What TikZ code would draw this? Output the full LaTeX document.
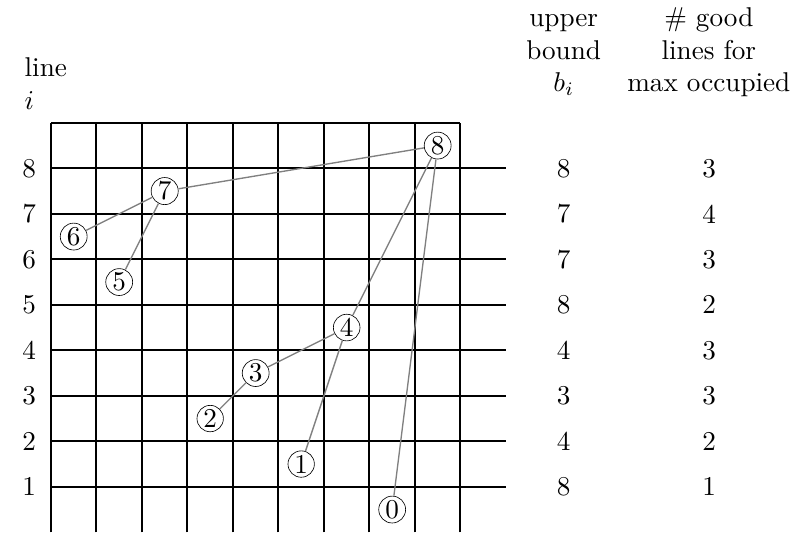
\documentclass[tikz,border=0pt]{standalone}
\usepackage{amsmath,amssymb}
\usepackage{tikz}
\usetikzlibrary{positioning}

\begin{document}
\begin{tikzpicture}[every node/.append style={scale=1.7},
  slot/.style={circle,draw,line width=0.4pt,inner sep=0.5pt},
  link/.style={gray,line width=0.85pt},
  rule/.style={line width=1.3pt},
  head/.style={align=center,anchor=base,inner sep=0pt}]
\useasboundingbox (-1.12,0) rectangle (16.31,11.70);
% grid
\foreach \x in {0,...,9} \draw[rule] (\x,0) -- (\x,9);
\foreach \y in {1,...,8} \draw[rule] (0,\y) -- (10,\y);
\draw[rule] (0,9) -- (9,9);
% column heads
\node[head,align=left,anchor=base west] (hline) at (-0.59,9.30) {line\\$i$};
\node[head] (hbound) at (11.27,9.68) {upper\\bound\\$b_i$};
\node[head] (hgood) at (14.46,9.68) {\# good\\lines for\\max occupied};
% rows
\foreach \i/\b/\g in {8/8/3,7/7/4,6/7/3,5/8/2,4/4/3,3/3/3,2/4/2,1/8/1} {
  \node (l\i) at (-0.48,\i) {\i};
  \node (b\i) at (11.27,\i) {\b};
  \node (g\i) at (14.47,\i) {\g};
}
% occupied cells
\foreach \k/\x in {0/7.5,1/5.5,2/3.5,3/4.5,4/6.5,5/1.5,6/0.5,7/2.5,8/8.5}
  \node[slot] (c\k) at (\x,\k+0.5) {\k};
\foreach \s/\t in {8/7,7/6,7/5,8/4,4/3,3/2,4/1,8/0}
  \draw[link] (c\s) -- (c\t);
\end{tikzpicture}
\end{document}
